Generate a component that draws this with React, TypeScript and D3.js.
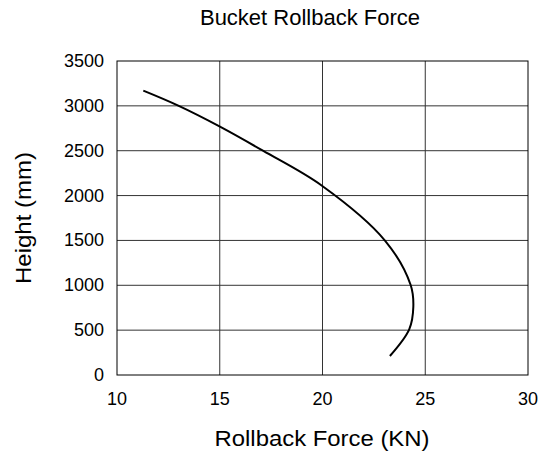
import React from "react";
import * as d3 from "d3";

const heightMM = [212, 509, 761, 1003, 1499, 2107, 2500, 2768, 3002, 3169];
const forceKN = [23.28, 24.22, 24.42, 24.29, 23.04, 19.99, 17.1, 15.01, 12.98, 11.28];
const xTicks = [10, 15, 20, 25, 30];
const yTicks = [0, 500, 1000, 1500, 2000, 2500, 3000, 3500];

export default function App() {
  const W = 544, H = 456;
  const L = 117, R = 528, T = 61, B = 375;
  const x = d3.scaleLinear().domain([10, 30]).range([L, R]);
  const y = d3.scaleLinear().domain([0, 3500]).range([B, T]);
  const pts = forceKN.map((f, i) => [f, heightMM[i]] as [number, number]);
  const line = d3.line<[number, number]>()
    .x(d => x(d[0]))
    .y(d => y(d[1]))
    .curve(d3.curveCatmullRom.alpha(0.5));
  const font = "'Liberation Sans', Arial, sans-serif";
  return (
    <svg width={W} height={H} style={{ position: "absolute", left: 0, top: 0, background: "#fff" }} fontFamily={font}>
      <rect x={0} y={0} width={W} height={H} fill="#fff" />
      {xTicks.slice(1, -1).map(t => (
        <line key={"gx" + t} x1={x(t)} x2={x(t)} y1={T} y2={B} stroke="#333" strokeWidth={1} />
      ))}
      {yTicks.slice(1, -1).map(t => (
        <line key={"gy" + t} x1={L} x2={R} y1={y(t)} y2={y(t)} stroke="#333" strokeWidth={1} />
      ))}
      <rect x={L} y={T} width={R - L} height={B - T} fill="none" stroke="#000" strokeWidth={1} />
      <path d={line(pts) || ""} fill="none" stroke="#000" strokeWidth={2} />
      {xTicks.map(t => (
        <text key={"tx" + t} x={x(t)} y={405} textAnchor="middle" fontSize={18} fill="#000">{t}</text>
      ))}
      {yTicks.map(t => (
        <text key={"ty" + t} x={104} y={y(t) + 6} textAnchor="end" fontSize={18} fill="#000">{t}</text>
      ))}
      <text x={310} y={25} textAnchor="middle" fontSize={22} fill="#000">Bucket Rollback Force</text>
      <text x={322} y={446} textAnchor="middle" fontSize={22} textLength={215} lengthAdjust="spacingAndGlyphs" fill="#000">Rollback Force (KN)</text>
      <text transform={`translate(31,${(T + B) / 2}) rotate(-90)`} textAnchor="middle" fontSize={22} textLength={132} lengthAdjust="spacingAndGlyphs" fill="#000">Height (mm)</text>
    </svg>
  );
}
